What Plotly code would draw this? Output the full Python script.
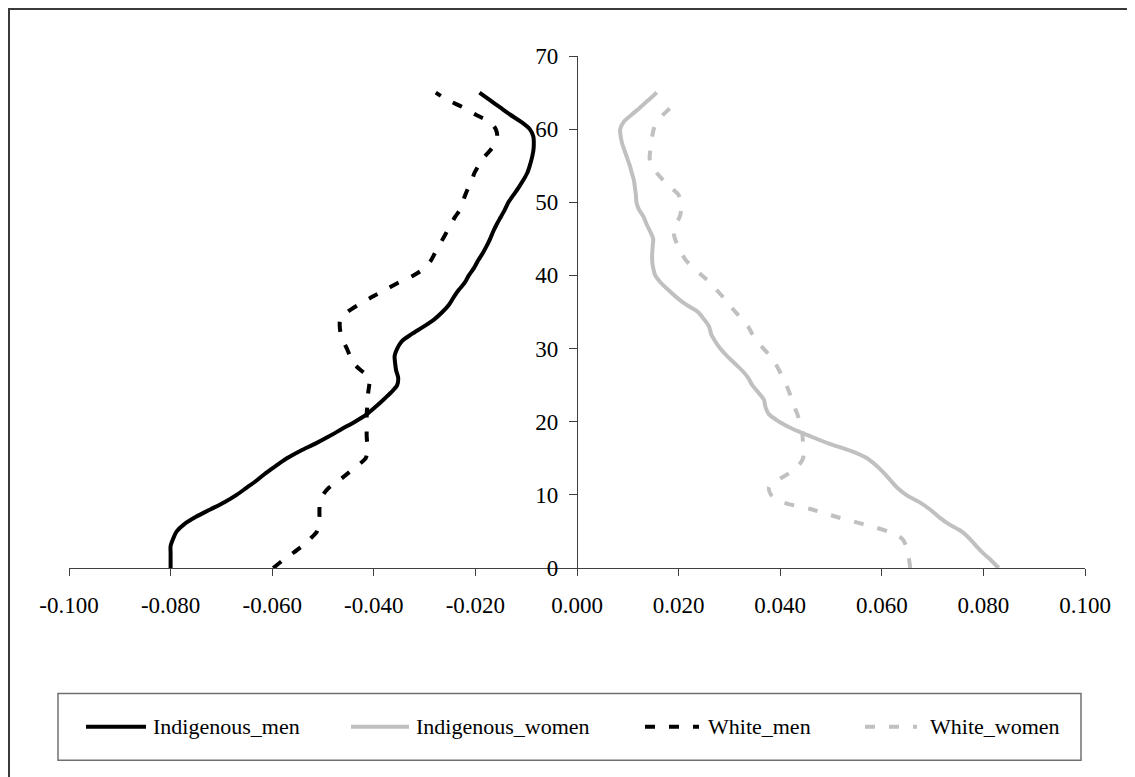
import plotly.graph_objects as go

# ---------------- data ----------------
AGES = [0, 1, 2, 3, 4, 5, 6, 7, 8, 9, 10, 11, 12, 13, 14, 15, 16, 17, 18, 19,
        20, 21, 22, 23, 24, 25, 26, 27, 28, 29, 30, 31, 32, 33, 34, 35, 36, 37, 38, 39,
        40, 41, 42, 43, 44, 45, 46, 47, 48, 49, 50, 51, 52, 53, 54, 55, 56, 57, 58, 59,
        60, 61, 62, 63, 64, 65]
AGES_WHITE_WOMEN = AGES[:65]

INDIGENOUS_MEN = [
    -0.0800, -0.0800, -0.0800, -0.0800, -0.0795, -0.0788, -0.0773, -0.0750, -0.0722, -0.0694,
    -0.0670, -0.0650, -0.0630, -0.0612, -0.0592, -0.0571, -0.0545, -0.0515, -0.0488, -0.0463,
    -0.0437, -0.0414, -0.0397, -0.0381, -0.0366, -0.0354, -0.0352, -0.0356, -0.0358, -0.0359,
    -0.0354, -0.0345, -0.0325, -0.0302, -0.0281, -0.0265, -0.0252, -0.0243, -0.0233, -0.0221,
    -0.0213, -0.0203, -0.0195, -0.0186, -0.0178, -0.0171, -0.0165, -0.0158, -0.0150, -0.0142,
    -0.0135, -0.0125, -0.0115, -0.0106, -0.0098, -0.0093, -0.0089, -0.0086, -0.0085, -0.0086,
    -0.0093, -0.0110, -0.0132, -0.0152, -0.0172, -0.0192]

INDIGENOUS_WOMEN = [
    0.0830, 0.0816, 0.0800, 0.0786, 0.0773, 0.0757, 0.0732, 0.0712, 0.0695, 0.0674,
    0.0648, 0.0630, 0.0617, 0.0604, 0.0589, 0.0571, 0.0539, 0.0496, 0.0460, 0.0425,
    0.0398, 0.0378, 0.0371, 0.0368, 0.0357, 0.0345, 0.0337, 0.0325, 0.0310, 0.0295,
    0.0282, 0.0272, 0.0264, 0.0260, 0.0250, 0.0238, 0.0215, 0.0196, 0.0180, 0.0165,
    0.0154, 0.0150, 0.0148, 0.0148, 0.0149, 0.0150, 0.0144, 0.0137, 0.0131, 0.0122,
    0.0117, 0.0116, 0.0114, 0.0112, 0.0108, 0.0104, 0.0099, 0.0094, 0.0089, 0.0086,
    0.0085, 0.0092, 0.0108, 0.0125, 0.0141, 0.0157]

WHITE_MEN = [
    -0.0598, -0.0580, -0.0560, -0.0541, -0.0525, -0.0512, -0.0508, -0.0507, -0.0507, -0.0506,
    -0.0500, -0.0488, -0.0468, -0.0450, -0.0432, -0.0416, -0.0413, -0.0413, -0.0414, -0.0414,
    -0.0414, -0.0414, -0.0413, -0.0412, -0.0411, -0.0409, -0.0408, -0.0425, -0.0440, -0.0447,
    -0.0453, -0.0460, -0.0465, -0.0467, -0.0466, -0.0452, -0.0430, -0.0405, -0.0378, -0.0352,
    -0.0322, -0.0300, -0.0288, -0.0280, -0.0272, -0.0264, -0.0256, -0.0248, -0.0240, -0.0230,
    -0.0225, -0.0220, -0.0214, -0.0207, -0.0202, -0.0194, -0.0185, -0.0172, -0.0162, -0.0157,
    -0.0160, -0.0172, -0.0200, -0.0225, -0.0255, -0.0278]

WHITE_WOMEN = [
    0.0656, 0.0654, 0.0651, 0.0648, 0.0640, 0.0612, 0.0563, 0.0510, 0.0463, 0.0405,
    0.0382, 0.0378, 0.0395, 0.0418, 0.0436, 0.0445, 0.0446, 0.0445, 0.0444, 0.0443,
    0.0438, 0.0434, 0.0428, 0.0423, 0.0418, 0.0412, 0.0405, 0.0398, 0.0390, 0.0380,
    0.0367, 0.0355, 0.0345, 0.0337, 0.0325, 0.0312, 0.0300, 0.0288, 0.0275, 0.0262,
    0.0246, 0.0230, 0.0215, 0.0206, 0.0199, 0.0193, 0.0190, 0.0195, 0.0202, 0.0205,
    0.0204, 0.0200, 0.0185, 0.0170, 0.0157, 0.0146, 0.0143, 0.0144, 0.0146, 0.0148,
    0.0151, 0.0157, 0.0170, 0.0185, 0.0197]

SERIES_NAMES = ["Indigenous_men", "Indigenous_women", "White_men", "White_women"]

X_TICKS = [-0.10, -0.08, -0.06, -0.04, -0.02, 0.0, 0.02, 0.04, 0.06, 0.08, 0.10]
X_TICK_LABELS = ["-0.100", "-0.080", "-0.060", "-0.040", "-0.020", "0.000",
                 "0.020", "0.040", "0.060", "0.080", "0.100"]
Y_TICKS = [0, 10, 20, 30, 40, 50, 60, 70]
Y_TICK_LABELS = ["0", "10", "20", "30", "40", "50", "60", "70"]

# ---------------- layout geometry ----------------
# page body has an 8px margin, so the figure is drawn 8px smaller/offset
OFF = 8
W, H = 1135 - OFF, 777 - OFF
L, T = 69 - OFF, 56 - OFF
R = W - (1085 - OFF)
B = H - (568.5 - OFF)
PW, PH = W - L - R, H - T - B


def px(x):  # reference-page pixel -> paper
    return (x - OFF - L) / PW


def py(y):
    return 1 - (y - OFF - T) / PH


FONT = "Liberation Serif, Times New Roman, serif"
BLACK = "#000000"
GRAY = "#C0C0C0"
DASH = "10px,14px"
styles = [
    dict(color=BLACK, dash="solid"),
    dict(color=GRAY, dash="solid"),
    dict(color=BLACK, dash=DASH),
    dict(color=GRAY, dash=DASH),
]
series = [
    (INDIGENOUS_MEN, AGES),
    (INDIGENOUS_WOMEN, AGES),
    (WHITE_MEN, AGES),
    (WHITE_WOMEN, AGES_WHITE_WOMEN),
]

fig = go.Figure()
for name, (xs, ys), st in zip(SERIES_NAMES, series, styles):
    fig.add_trace(go.Scatter(
        x=xs, y=ys, name=name, mode="lines",
        line=dict(color=st["color"], dash=st["dash"], width=4, shape="spline", smoothing=0.8),
        showlegend=False,
    ))

AXIS_COLOR = "#404040"
fig.update_layout(
    width=W, height=H,
    margin=dict(l=L, r=R, t=T, b=B, pad=0),
    paper_bgcolor="white", plot_bgcolor="white",
    font=dict(family=FONT, color=BLACK),
    xaxis=dict(
        range=[-0.1, 0.1], tickvals=X_TICKS, ticktext=X_TICK_LABELS,
        ticks="outside", ticklen=7, tickwidth=1.3, tickcolor=AXIS_COLOR,
        showline=True, linecolor=AXIS_COLOR, linewidth=1.3,
        showgrid=False, zeroline=False,
        tickfont=dict(family=FONT, size=23, color=BLACK),
        ticklabelstandoff=9,
    ),
    yaxis=dict(
        range=[0, 70], tickvals=Y_TICKS, ticktext=Y_TICK_LABELS,
        anchor="free", position=0.5, side="left",
        ticks="outside", ticklen=8, tickwidth=1.3, tickcolor=AXIS_COLOR,
        showline=True, linecolor=AXIS_COLOR, linewidth=1.3,
        showgrid=False, zeroline=False,
        tickfont=dict(family=FONT, size=23, color=BLACK),
        ticklabelstandoff=6,
    ),
)

shapes = []
# outer chart border (only top/left visible in the reference)
shapes.append(dict(type="rect", xref="paper", yref="paper",
                   x0=px(9), y0=py(800), x1=px(1160), y1=py(9),
                   line=dict(color="#3a3a3a", width=2), fillcolor="rgba(0,0,0,0)", layer="below"))
# legend box
shapes.append(dict(type="rect", xref="paper", yref="paper",
                   x0=px(58), y0=py(761), x1=px(1081), y1=py(694),
                   line=dict(color="#707070", width=1.5), fillcolor="rgba(0,0,0,0)"))

LEG_Y = 727.5
legend_items = [(86, 146, 151), (351, 409, 414), (645, 699, 706), (865, 917, 928)]
annotations = []
for name, st, (lx0, lx1, tx) in zip(SERIES_NAMES, styles, legend_items):
    shapes.append(dict(type="line", xref="paper", yref="paper",
                       x0=px(lx0), x1=px(lx1), y0=py(LEG_Y), y1=py(LEG_Y),
                       line=dict(color=st["color"], dash=st["dash"], width=4)))
    annotations.append(dict(xref="paper", yref="paper", x=px(tx), y=py(LEG_Y),
                            text=name, showarrow=False, xanchor="left", yanchor="middle",
                            font=dict(family=FONT, size=22, color=BLACK)))

fig.update_layout(shapes=shapes, annotations=annotations)
fig.write_html("out.html")
